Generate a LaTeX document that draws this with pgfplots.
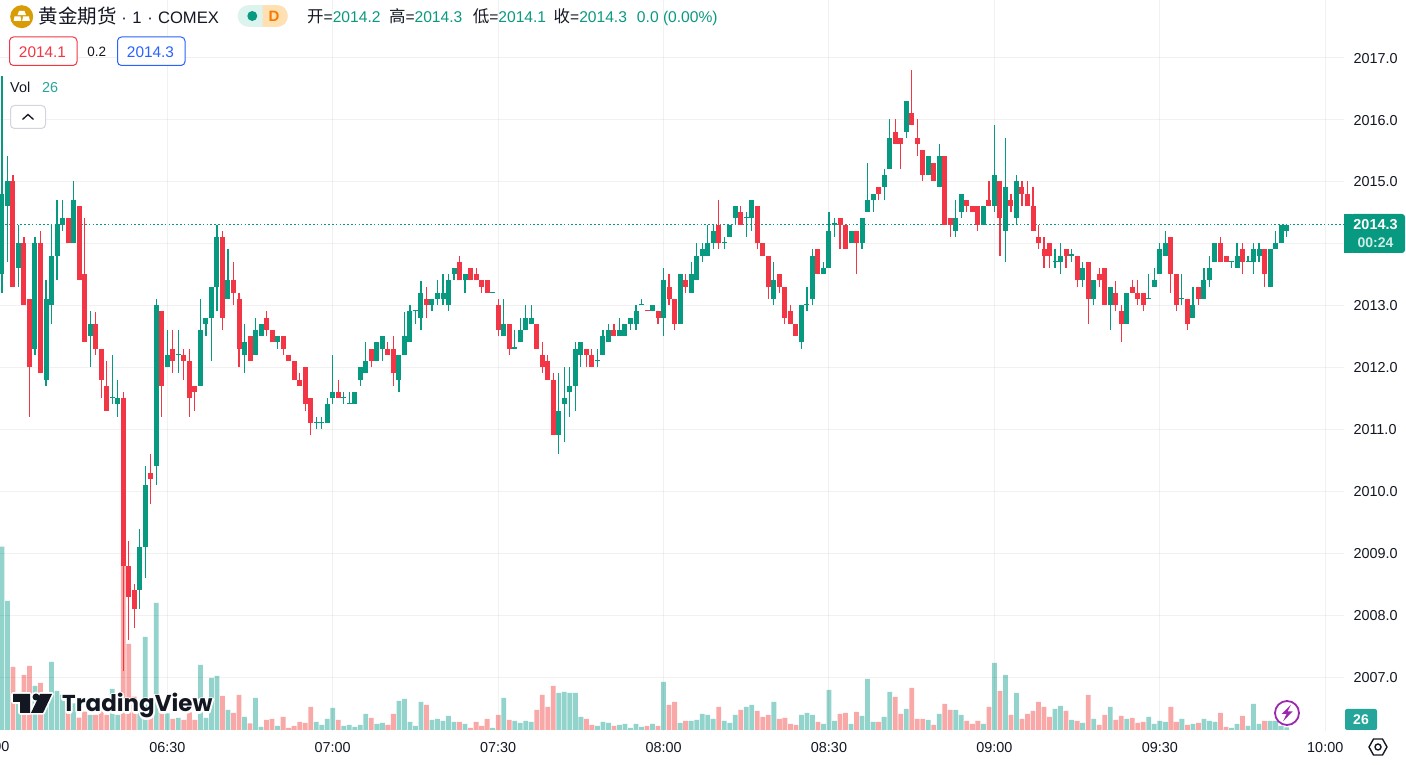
\documentclass[border=0pt]{standalone}
\usepackage{fontspec}
\setmainfont{Liberation Sans}
\newfontfamily\cjk{Noto Sans CJK SC}
\newfontfamily\wm{Poppins}
\usepackage{pgfplots}
\usepackage{pgfplotstable}
\pgfplotsset{compat=1.18}
\definecolor{tvg}{HTML}{089981}
\definecolor{tvr}{HTML}{F23645}
\definecolor{volg}{HTML}{92D3CB}
\definecolor{volr}{HTML}{F8A9A7}
\definecolor{ink}{HTML}{131722}
\definecolor{tvb}{HTML}{2962FF}
\pgfplotstableread{
t o h l c v
0 2013.5 2016.7 2013.2 2014.8 550
1 2014.6 2015.4 2013.7 2015.0 387
3 2013.6 2014.3 2013.3 2014.0 100
6 2012.3 2014.1 2012.2 2014.0 132
8 2011.8 2013.4 2011.7 2013.1 100
9 2013.0 2014.3 2012.7 2013.8 204
10 2013.8 2014.7 2013.4 2014.3 117
11 2014.3 2014.7 2014.2 2014.4 105
13 2014.0 2015.0 2014.0 2014.7 80
16 2012.5 2012.9 2012.0 2012.7 45
20 2011.5 2012.2 2011.4 2011.5 123
21 2011.4 2011.8 2011.2 2011.5 45
25 2008.4 2009.4 2008.1 2009.1 80
26 2009.1 2010.4 2008.6 2010.1 279
28 2010.4 2013.1 2010.1 2013.0 381
30 2012.0 2012.6 2012.0 2012.2 50
32 2012.2 2012.6 2011.9 2012.2 36
36 2011.7 2013.1 2011.7 2012.6 195
37 2012.7 2012.8 2012.5 2012.8 36
38 2012.8 2013.3 2012.1 2013.3 156
39 2013.3 2014.3 2012.9 2014.1 162
41 2013.1 2013.9 2013.1 2013.4 60
44 2012.2 2012.7 2011.9 2012.4 39
46 2012.2 2012.8 2012.2 2012.6 96
47 2012.5 2012.7 2012.5 2012.7 9
50 2012.4 2012.5 2012.3 2012.5 12
57 2011.1 2011.2 2011.0 2011.1 24
58 2011.1 2011.2 2011.0 2011.1 15
59 2011.1 2011.5 2011.1 2011.4 33
60 2011.5 2012.2 2011.4 2011.6 66
62 2011.5 2011.6 2011.4 2011.5 12
63 2011.4 2011.6 2011.4 2011.4 15
64 2011.4 2011.6 2011.4 2011.6 9
65 2011.8 2012.0 2011.7 2012.0 15
66 2011.9 2012.4 2011.9 2012.1 48
68 2012.1 2012.4 2012.1 2012.4 18
69 2012.3 2012.5 2012.1 2012.5 21
72 2011.8 2012.2 2011.6 2012.2 87
73 2012.2 2012.9 2012.2 2012.5 93
74 2012.4 2013.0 2012.4 2012.9 24
75 2012.9 2012.9 2012.7 2012.9 12
76 2012.8 2013.4 2012.6 2013.2 84
78 2013.0 2013.1 2012.9 2013.1 30
79 2013.1 2013.4 2013.0 2013.2 33
80 2013.1 2013.5 2013.0 2013.2 27
81 2013.0 2013.5 2012.9 2013.4 42
82 2013.5 2013.6 2013.4 2013.6 24
84 2013.4 2013.5 2013.2 2013.5 18
89 2013.2 2013.2 2013.2 2013.2 6
91 2012.5 2013.1 2012.5 2012.7 96
93 2012.3 2012.6 2012.3 2012.3 27
94 2012.4 2012.8 2012.4 2012.6 21
95 2012.6 2013.0 2012.6 2012.8 27
96 2012.7 2013.0 2012.7 2012.8 24
101 2010.9 2011.9 2010.6 2011.3 111
102 2011.4 2012.0 2010.8 2011.5 114
103 2011.6 2012.0 2011.2 2011.7 111
104 2011.7 2012.4 2011.3 2012.3 111
105 2012.2 2012.4 2012.0 2012.4 39
108 2012.1 2012.3 2012.0 2012.1 12
109 2012.2 2012.6 2012.2 2012.5 24
110 2012.4 2012.7 2012.4 2012.6 21
112 2012.5 2012.8 2012.5 2012.6 15
113 2012.5 2012.7 2012.5 2012.7 18
114 2012.7 2012.8 2012.6 2012.8 6
115 2012.7 2013.0 2012.6 2012.9 18
116 2013.0 2013.1 2013.0 2013.0 9
118 2012.9 2013.0 2012.9 2013.0 18
120 2012.8 2013.6 2012.5 2013.4 144
123 2012.7 2013.5 2012.7 2013.5 21
125 2013.2 2013.7 2013.2 2013.5 27
126 2013.4 2014.0 2013.4 2013.8 30
127 2013.8 2014.0 2013.7 2013.9 48
128 2013.8 2014.3 2013.8 2014.0 45
129 2014.0 2014.3 2013.9 2014.2 33
131 2014.0 2014.1 2013.9 2014.0 27
132 2014.1 2014.3 2014.1 2014.3 21
133 2014.4 2014.6 2014.3 2014.6 45
135 2014.4 2014.5 2014.1 2014.4 69
136 2014.4 2014.7 2014.2 2014.7 75
140 2013.1 2013.7 2013.0 2013.4 84
145 2012.4 2013.0 2012.3 2013.0 45
146 2013.0 2013.3 2012.9 2013.0 51
147 2013.1 2013.9 2013.0 2013.8 45
149 2013.5 2013.7 2013.5 2013.6 18
150 2013.6 2014.5 2013.6 2014.2 120
151 2014.3 2014.4 2014.1 2014.3 27
154 2014.0 2014.2 2014.0 2014.2 18
156 2014.0 2014.4 2013.9 2014.4 42
157 2014.5 2015.3 2014.5 2014.7 153
158 2014.7 2014.8 2014.5 2014.8 24
160 2014.9 2015.2 2014.7 2015.1 39
161 2015.2 2016.0 2015.2 2015.7 114
164 2015.8 2016.3 2015.7 2016.3 63
168 2015.1 2015.4 2015.1 2015.4 30
170 2014.9 2015.6 2014.9 2015.4 48
173 2014.2 2014.7 2014.1 2014.4 60
174 2014.5 2014.8 2014.4 2014.8 45
178 2014.3 2014.6 2014.3 2014.6 18
180 2014.6 2015.9 2014.5 2015.1 201
182 2014.2 2015.7 2013.7 2014.9 165
184 2014.4 2015.1 2014.3 2015.0 111
191 2013.7 2013.9 2013.6 2013.7 63
192 2013.7 2014.0 2013.5 2013.8 72
194 2013.8 2013.9 2013.7 2013.8 30
196 2013.4 2013.7 2013.3 2013.6 21
198 2013.1 2013.4 2013.0 2013.4 33
201 2013.0 2013.3 2012.6 2013.3 69
204 2012.7 2013.2 2012.7 2013.2 33
208 2013.1 2013.5 2013.1 2013.1 39
209 2013.3 2013.6 2013.3 2013.4 18
210 2013.5 2014.0 2013.5 2013.9 27
211 2013.8 2014.2 2013.8 2014.0 24
214 2013.1 2013.5 2013.0 2013.1 33
216 2012.8 2013.3 2012.8 2013.0 18
218 2013.1 2013.6 2013.1 2013.4 33
219 2013.4 2013.8 2013.3 2013.6 27
220 2013.7 2014.0 2013.7 2014.0 24
223 2013.7 2013.7 2013.6 2013.7 6
224 2013.6 2014.0 2013.6 2013.8 18
226 2013.7 2013.8 2013.7 2013.7 12
227 2013.7 2014.0 2013.5 2013.9 78
228 2013.8 2014.0 2013.7 2013.9 18
230 2013.3 2013.9 2013.3 2013.9 27
231 2013.9 2014.2 2013.9 2014.0 27
232 2014.0 2014.3 2014.0 2014.3 12
233 2014.2 2014.3 2014.1 2014.3 8
}\upT
\pgfplotstableread{
t o h l c v
2 2015.0 2015.1 2013.3 2013.3 189
4 2014.0 2014.1 2013.0 2013.0 165
5 2013.1 2013.1 2011.2 2012.0 192
7 2014.0 2014.2 2011.9 2011.9 141
12 2014.4 2014.4 2014.0 2014.0 80
14 2014.6 2014.6 2013.4 2013.4 37
15 2013.5 2014.4 2012.4 2012.4 55
17 2012.7 2012.9 2012.2 2012.3 45
18 2012.3 2012.3 2011.5 2011.8 70
19 2011.7 2012.1 2011.3 2011.3 45
22 2011.5 2011.6 2007.1 2008.8 500
23 2008.8 2009.2 2007.6 2008.3 258
24 2008.4 2008.5 2007.8 2008.1 100
27 2010.3 2010.6 2009.8 2010.2 80
29 2012.9 2012.9 2011.2 2011.7 80
31 2012.3 2012.6 2011.9 2012.1 33
33 2012.2 2012.3 2011.8 2012.1 30
34 2012.1 2012.3 2011.2 2011.5 53
35 2011.7 2011.7 2011.3 2011.6 30
40 2014.1 2014.2 2012.6 2012.8 102
42 2013.4 2013.7 2013.0 2013.2 51
43 2013.1 2013.2 2012.0 2012.3 105
45 2012.5 2012.5 2012.1 2012.1 20
48 2012.8 2012.9 2012.5 2012.6 30
49 2012.6 2012.6 2012.4 2012.4 33
51 2012.5 2012.5 2012.2 2012.3 39
52 2012.2 2012.2 2012.1 2012.1 6
53 2012.1 2012.1 2011.8 2011.8 12
54 2011.8 2011.9 2011.7 2011.7 24
55 2012.0 2012.0 2011.3 2011.4 21
56 2011.5 2011.5 2010.9 2011.1 69
61 2011.6 2011.8 2011.5 2011.5 30
67 2012.3 2012.3 2012.0 2012.1 36
70 2012.3 2012.4 2012.2 2012.2 15
71 2012.3 2012.5 2011.7 2011.9 48
77 2013.1 2013.3 2012.8 2013.0 75
83 2013.7 2013.8 2013.4 2013.4 24
85 2013.6 2013.6 2013.4 2013.4 6
86 2013.5 2013.6 2013.4 2013.4 24
87 2013.4 2013.4 2013.2 2013.3 12
88 2013.4 2013.4 2013.2 2013.2 33
90 2013.0 2013.1 2012.5 2012.6 45
92 2012.7 2012.7 2012.2 2012.3 30
97 2012.7 2012.7 2012.3 2012.3 60
98 2012.2 2012.4 2011.9 2012.0 105
99 2012.1 2012.2 2011.8 2011.8 69
100 2011.8 2011.9 2010.9 2010.9 132
106 2012.3 2012.3 2012.0 2012.2 33
107 2012.2 2012.3 2012.0 2012.0 15
111 2012.6 2012.7 2012.5 2012.5 12
117 2012.9 2012.9 2012.9 2012.9 12
119 2012.9 2012.9 2012.7 2012.8 12
121 2013.3 2013.5 2013.0 2013.1 75
122 2013.1 2013.1 2012.6 2012.7 84
124 2013.4 2013.5 2013.2 2013.3 27
130 2014.3 2014.7 2013.9 2014.0 69
134 2014.5 2014.6 2014.3 2014.3 60
137 2014.6 2014.6 2013.9 2014.0 57
138 2014.0 2014.0 2013.8 2013.8 39
139 2013.8 2013.8 2013.1 2013.3 45
141 2013.5 2013.5 2013.2 2013.3 33
142 2013.3 2013.3 2012.7 2012.8 36
143 2012.9 2013.0 2012.7 2012.7 18
144 2012.7 2012.7 2012.5 2012.5 15
148 2013.9 2013.9 2013.5 2013.5 24
152 2014.4 2014.4 2013.9 2014.3 48
153 2014.3 2014.3 2013.9 2013.9 51
155 2014.2 2014.2 2013.5 2014.0 54
159 2014.9 2014.9 2014.7 2014.8 24
162 2015.8 2016.0 2015.6 2015.6 99
163 2015.7 2015.7 2015.2 2015.6 48
165 2016.1 2016.8 2015.9 2015.9 126
166 2015.7 2016.0 2015.4 2015.6 33
167 2015.5 2015.5 2015.0 2015.1 33
169 2015.3 2015.3 2015.0 2015.0 15
171 2015.4 2015.4 2014.3 2014.3 78
172 2014.4 2014.4 2014.1 2014.3 60
175 2014.7 2014.7 2014.5 2014.6 27
176 2014.6 2014.6 2014.5 2014.5 18
177 2014.6 2014.6 2014.2 2014.3 27
179 2014.7 2015.0 2014.6 2014.6 69
181 2015.0 2015.0 2013.8 2014.4 117
183 2014.7 2014.8 2014.5 2014.6 45
185 2014.9 2015.0 2014.6 2014.8 33
186 2014.8 2015.0 2014.6 2014.6 48
187 2014.6 2014.9 2014.2 2014.2 57
188 2014.1 2014.3 2013.9 2014.0 84
189 2013.9 2014.1 2013.6 2013.8 69
190 2014.0 2014.0 2013.6 2013.8 39
193 2013.9 2013.9 2013.6 2013.8 57
195 2013.8 2013.8 2013.3 2013.4 27
197 2013.7 2013.7 2012.7 2013.1 105
199 2013.5 2013.6 2013.3 2013.4 15
200 2013.6 2013.6 2013.0 2013.0 45
202 2013.2 2013.4 2012.9 2013.0 30
203 2012.9 2013.0 2012.4 2012.7 42
205 2013.3 2013.4 2013.2 2013.2 36
206 2013.2 2013.4 2013.0 2013.1 21
207 2013.2 2013.2 2012.9 2013.0 24
212 2014.1 2014.1 2013.2 2013.5 69
213 2013.5 2013.5 2012.9 2013.0 24
215 2013.1 2013.1 2012.6 2012.7 15
217 2013.3 2013.3 2013.0 2013.1 21
221 2014.0 2014.1 2013.7 2013.7 51
222 2013.8 2013.8 2013.7 2013.7 9
225 2013.9 2014.0 2013.5 2013.7 42
229 2013.9 2013.9 2013.3 2013.5 27
}\dnT
\begin{document}
\begin{tikzpicture}
\useasboundingbox (0,0) rectangle (1406pt,765pt);
% volume pane
\begin{axis}[at={(0pt,34pt)},anchor=south west,scale only axis,width=1344pt,height=731pt,
  xmin=-0.345,xmax=243.4,ymin=-3,ymax=2190,hide axis,clip=true]
\addplot[ybar,bar width=4.8pt,bar shift=0pt,fill=volg,draw=none] table[x=t,y=v]{\upT};
\addplot[ybar,bar width=4.8pt,bar shift=0pt,fill=volr,draw=none] table[x=t,y=v]{\dnT};
\end{axis}
% price pane
\begin{axis}[at={(0pt,34pt)},anchor=south west,scale only axis,width=1344pt,height=731pt,
  xmin=-0.345,xmax=243.4,ymin=2006.134,ymax=2017.924,
  axis line style={draw=none},major tick length=0pt,
  xtick={30,60,...,240},
  xticklabels={06:30,07:00,07:30,08:00,08:30,09:00,09:30,10:00},
  ytick={2007,...,2017},
  yticklabels={2007.0,2008.0,2009.0,2010.0,2011.0,2012.0,2013.0,,2015.0,2016.0,2017.0},
  yticklabel pos=right,
  yticklabel style={font=\fontsize{14.4}{16}\selectfont,text=ink,anchor=west,xshift=6pt,yshift=-0.7pt},
  xticklabel style={font=\fontsize{14.4}{16}\selectfont,text=ink,yshift=-8pt},
  grid=major,
  major grid style={draw=ink,line width=1pt,opacity=0.06},
]
\addplot[tvg,line width=1pt,dash pattern=on 1.6pt off 2.2pt] coordinates {(0.6,2014.3)(243.4,2014.3)};
\addplot[draw=none,no marks,error bars/.cd,y dir=plus,y explicit,error mark=none,error bar style={draw=tvg,line width=1.2pt}]
  table[x=t,y=l,y error plus expr={\thisrow{h}-\thisrow{l}}]{\upT};
\addplot[draw=none,no marks,error bars/.cd,y dir=plus,y explicit,error mark=none,error bar style={draw=tvg,line width=5pt}]
  table[x=t,y=o,y error plus expr={max(\thisrow{c}-\thisrow{o},0.02)}]{\upT};
\addplot[draw=none,no marks,error bars/.cd,y dir=plus,y explicit,error mark=none,error bar style={draw=tvr,line width=1.2pt}]
  table[x=t,y=l,y error plus expr={\thisrow{h}-\thisrow{l}}]{\dnT};
\addplot[draw=none,no marks,error bars/.cd,y dir=plus,y explicit,error mark=none,error bar style={draw=tvr,line width=5pt}]
  table[x=t,y=c,y error plus expr={max(\thisrow{o}-\thisrow{c},0.02)}]{\dnT};
\end{axis}
\begin{scope}[shift={(0pt,765pt)},x=1pt,y=-1pt]
\tikzset{lab/.style={inner sep=0pt,anchor=base west}}
\def\fs#1{\fontsize{#1}{#1}\selectfont}
% clipped first time label
\node[inner sep=0pt,anchor=base east,text=ink] at (9.5,752) {\fs{14.4}06:00};
% header
\fill[fill={rgb,255:red,217;green,156;blue,5}] (21.7,16.7) circle (11.5);
\fill[white] (19,10.8) -- (24.5,10.8) -- (26,15.2) -- (17.5,15.2) -- cycle;
\fill[white] (14.5,16.5) -- (20.5,16.5) -- (21.3,20.8) -- (13.7,20.8) -- cycle;
\fill[white] (23,16.5) -- (29,16.5) -- (29.8,20.8) -- (22.2,20.8) -- cycle;
\node[lab,text=ink] at (38.3,23.5) {\fs{16.6}{\fs{19.5}\cjk 黄金期货}\hspace{4.8pt}·\hspace{5.6pt}1\hspace{5.7pt}·\hspace{5.2pt}COMEX};
\fill[fill={rgb,255:red,221;green,243;blue,238},rounded corners=10.5pt] (237.7,5.2) rectangle (287.7,26.8);
\begin{scope}
\clip (262.7,0) rectangle (295,35);
\fill[fill={rgb,255:red,255;green,224;blue,178},rounded corners=10.5pt] (237.7,5.2) rectangle (287.7,26.8);
\end{scope}
\fill[tvg] (252.3,16) circle (5);
\node[inner sep=0pt,text={rgb,255:red,245;green,124;blue,0}] at (274,16) {\fs{15}\textbf{D}};
\node[lab,text=ink] at (307,23) {\fs{15.6}{\fs{16.5}\cjk 开}=\textcolor{tvg}{2014.2}\hspace{8.5pt}{\fs{16.5}\cjk 高}=\textcolor{tvg}{2014.3}\hspace{10.5pt}{\fs{16.5}\cjk 低}=\textcolor{tvg}{2014.1}\hspace{7.5pt}{\fs{16.5}\cjk 收}=\textcolor{tvg}{2014.3}\hspace{10pt}\textcolor{tvg}{0.0 (0.00\%)}};
% row 2
\draw[tvr,line width=1pt,rounded corners=4pt,fill=white] (9.5,37) rectangle (77,65.5);
\node[inner sep=0pt,text=tvr] at (42.5,52.2) {\fs{15.4}2014.1};
\node[inner sep=0pt,text=ink] at (96.7,52.2) {\fs{13.5}0.2};
\draw[tvb,line width=1pt,rounded corners=4pt,fill=white] (117.5,37) rectangle (185,65.5);
\node[inner sep=0pt,text=tvb] at (150.5,52.2) {\fs{15.4}2014.3};
% vol
\node[lab,text=ink] at (10,92.5) {\fs{14.4}Vol};
\node[lab,text={rgb,255:red,38;green,166;blue,154}] at (42,92.5) {\fs{14.4}26};
\draw[draw={rgb,255:red,210;green,212;blue,222},line width=1pt,rounded corners=4pt,fill=white] (10.5,105.5) rectangle (45.5,128.5);
\draw[ink,line width=1.3pt] (22.5,119.5) -- (28,114.5) -- (33.5,119.5);
% last price tag
\fill[tvg,rounded corners=3pt] (1350,214) rectangle (1405,253);
\fill[tvg] (1344,214) rectangle (1352,253);
\node[inner sep=0pt,text=white] at (1375.5,224.5) {\fs{14.4}\textbf{2014.3}};
\node[inner sep=0pt,text={rgb,255:red,206;green,235;blue,230}] at (1375.5,243) {\fs{14}\textbf{00:24}};
% volume tag
\fill[fill={rgb,255:red,38;green,166;blue,154},rounded corners=2pt] (1345,709) rectangle (1377,730);
\node[inner sep=0pt,text=white] at (1361,719.5) {\fs{14}\textbf{26}};
% gear hexagon
\draw[ink,line width=1.4pt,line join=round] (1369,747) -- (1373.5,739) -- (1382.5,739) -- (1387,747) -- (1382.5,755) -- (1373.5,755) -- cycle;
\draw[ink,line width=1.4pt] (1378,747) circle (3);
% lightning badge
\draw[draw={rgb,255:red,156;green,39;blue,176},line width=1.8pt,fill=white] (1287,713) circle (12);
\fill[fill={rgb,255:red,156;green,39;blue,176}] (1291,704.5) -- (1281.5,714) -- (1286.5,714) -- (1283,721.5) -- (1292.5,711.5) -- (1287.5,711.5) -- cycle;
% watermark
\fill[white,draw=white,line width=3.5pt,line join=round] (13,694) -- (30,694) -- (30,713) -- (20,713) -- (20,702) -- (13,702) -- cycle;
\fill[white,draw=white,line width=3.5pt,line join=round] (40,694) -- (52,694) -- (43,713) -- (31,713) -- cycle;
\fill[white,draw=white,line width=3.5pt] (36,697) circle (3.5);
\fill[ink] (13,694) -- (30,694) -- (30,713) -- (20,713) -- (20,702) -- (13,702) -- cycle;
\fill[ink] (40,694) -- (52,694) -- (43,713) -- (31,713) -- cycle;
\fill[ink] (36,697) circle (3.5);
\node[inner sep=0pt,anchor=base west,text=white] at (62,712) {\special{pdf:code 2 Tr 3.5 w 1 j 1 1 1 RG}\fs{23}\wm\bfseries TradingView\special{pdf:code 0 Tr 1 w 0 j}};
\node[inner sep=0pt,anchor=base west,text=ink] at (62,712) {\fs{23}\wm\bfseries TradingView};
\end{scope}
\end{tikzpicture}
\end{document}
